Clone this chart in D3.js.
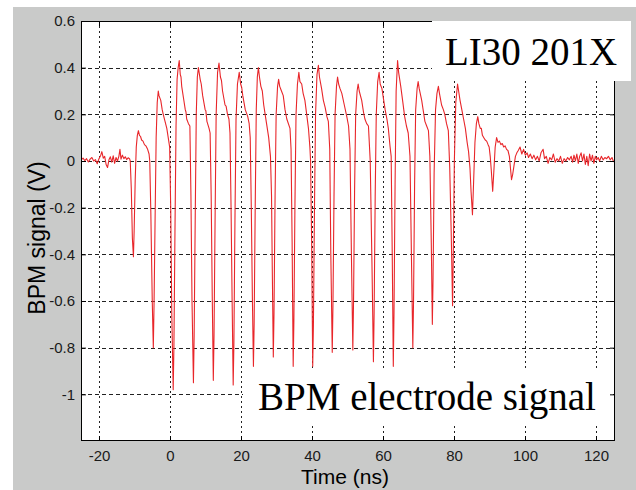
<!DOCTYPE html>
<html><head><meta charset="utf-8">
<script src="https://cdn.jsdelivr.net/npm/d3@7"></script>
<style>
html,body{margin:0;padding:0;background:#fff;}
svg{display:block;}
</style></head>
<body>
<script>
// ---- data ----
const xTicks = [-20, 0, 20, 40, 60, 80, 100, 120];
const xTickLabels = ["-20", "0", "20", "40", "60", "80", "100", "120"];
const yTicks = [0.6, 0.4, 0.2, 0, -0.2, -0.4, -0.6, -0.8, -1];
const yTickLabels = ["0.6", "0.4", "0.2", "0", "-0.2", "-0.4", "-0.6", "-0.8", "-1"];
const xLabel = "Time (ns)";
const yLabel = "BPM signal (V)";
const titleTop = "LI30 201X";
const titleBottom = "BPM electrode signal";

// time (ns), signal (V)
const preTrigger = [
[-25.0,0.005],[-24.5,0.012],[-24.0,0.002],[-23.5,0.010],[-23.0,-0.004],[-22.5,0.008],[-22.0,0.015],[-21.5,0.000],[-21.0,0.006],[-20.5,-0.012],[-20.0,0.010],[-19.5,0.025],[-19.2,0.040],[-18.8,0.012],[-18.4,0.020],[-18.0,-0.015],[-17.6,-0.028],[-17.2,0.005],[-16.8,0.018],[-16.4,-0.005],[-16.0,0.022],[-15.6,-0.010],[-15.2,0.015],[-14.8,0.000],[-14.4,0.020],[-14.1,0.050],[-13.8,0.008],[-13.4,0.025],[-13.0,0.010],[-12.6,0.018],[-12.2,0.006],[-11.8,0.014],[-11.4,0.010]
];
const bunchTrain = [
[-11.2,0.00],[-10.9,-0.12],[-10.6,-0.33],[-10.3,-0.41],[-10.1,-0.30],[-9.8,-0.08],[-9.5,0.06],[-9.2,0.11],[-8.9,0.13],[-8.6,0.11],[-8.3,0.105],[-8.0,0.09],[-7.6,0.085],[-7.2,0.07],[-6.8,0.065],[-6.3,0.05],[-5.9,0.03],[-5.7,0.00],
[-5.4,-0.22],[-5.0,-0.60],[-4.7,-0.80],[-4.5,-0.62],[-4.2,-0.25],[-3.9,0.10],[-3.6,0.25],[-3.3,0.30],[-3.1,0.28],[-2.6,0.26],[-2.2,0.22],[-1.9,0.20],[-1.4,0.17],[-0.9,0.14],[-0.5,0.10],[-0.1,0.06],
[0.2,-0.20],[0.5,-0.65],[0.9,-0.98],[1.1,-0.80],[1.4,-0.30],[1.7,0.15],[2.0,0.35],[2.3,0.40],[2.6,0.43],[2.9,0.37],[3.1,0.36],[3.3,0.32],[3.8,0.27],[4.3,0.22],[4.5,0.21],[4.7,0.18],[5.2,0.16],[5.6,0.15],
[5.9,-0.15],[6.2,-0.60],[6.6,-0.95],[6.8,-0.75],[7.1,-0.25],[7.4,0.20],[7.7,0.36],[8.0,0.40],[8.5,0.35],[8.8,0.33],[9.2,0.28],[9.9,0.22],[10.1,0.215],[10.4,0.17],[11.0,0.14],[11.3,0.12],
[11.6,-0.15],[11.9,-0.58],[12.2,-0.94],[12.4,-0.75],[12.7,-0.25],[13.0,0.20],[13.4,0.38],[13.8,0.42],[14.2,0.36],[14.5,0.345],[14.8,0.30],[15.5,0.24],[15.8,0.235],[16.2,0.20],[16.6,0.18],[16.9,0.12],
[17.2,-0.20],[17.5,-0.60],[17.8,-0.96],[18.0,-0.78],[18.3,-0.25],[18.6,0.18],[19.0,0.33],[19.5,0.38],[19.9,0.33],[20.2,0.315],[20.5,0.28],[21.2,0.22],[21.9,0.19],[22.3,0.16],[22.6,0.10],
[22.9,-0.20],[23.2,-0.58],[23.5,-0.88],[23.7,-0.70],[24.0,-0.20],[24.3,0.22],[24.6,0.36],[24.9,0.40],[25.2,0.36],[25.6,0.32],[26.0,0.30],[26.4,0.24],[27.2,0.16],[27.8,0.10],[28.3,0.02],[28.6,-0.15],
[28.8,-0.45],[29.1,-0.84],[29.3,-0.65],[29.6,-0.15],[29.9,0.20],[30.3,0.32],[30.6,0.35],[30.9,0.32],[31.4,0.30],[31.9,0.28],[32.4,0.22],[32.9,0.18],[33.8,0.14],[34.1,0.05],[34.4,-0.35],
[34.7,-0.88],[34.9,-0.68],[35.2,-0.18],[35.5,0.20],[35.9,0.33],[36.3,0.38],[36.6,0.34],[37.1,0.33],[37.5,0.29],[38.0,0.26],[38.5,0.20],[39.0,0.14],[39.4,0.06],[39.6,0.00],[39.9,-0.35],
[40.2,-0.88],[40.4,-0.70],[40.7,-0.20],[41.0,0.20],[41.4,0.37],[41.8,0.41],[42.1,0.36],[42.7,0.31],[43.2,0.26],[43.7,0.23],[44.2,0.19],[44.6,0.17],[45.0,0.05],[45.3,-0.40],
[45.7,-0.82],[45.9,-0.62],[46.2,-0.15],[46.5,0.20],[46.9,0.32],[47.2,0.36],[47.5,0.33],[47.9,0.31],[48.4,0.29],[49.1,0.24],[49.8,0.19],[50.3,0.15],[50.7,0.05],[51.1,-0.40],
[51.5,-0.81],[51.7,-0.60],[52.0,-0.12],[52.3,0.20],[52.7,0.30],[53.0,0.33],[53.3,0.30],[54.0,0.26],[54.5,0.21],[54.9,0.18],[55.4,0.16],[55.9,0.15],[56.4,0.00],[56.9,-0.45],
[57.3,-0.86],[57.5,-0.65],[57.8,-0.15],[58.1,0.20],[58.5,0.34],[58.9,0.38],[59.2,0.33],[59.7,0.31],[60.2,0.26],[60.6,0.22],[61.1,0.18],[61.5,0.14],[62.0,0.06],[62.3,0.02],[62.6,-0.40],
[62.9,-0.88],[63.1,-0.65],[63.4,-0.10],[63.7,0.30],[64.1,0.43],[64.4,0.38],[65.0,0.32],[65.6,0.25],[66.1,0.19],[66.6,0.15],[67.1,0.12],[67.6,0.02],[68.0,-0.40],
[68.4,-0.80],[68.6,-0.60],[68.9,-0.10],[69.2,0.22],[69.6,0.31],[69.9,0.34],[70.2,0.31],[70.9,0.26],[71.4,0.21],[71.8,0.17],[72.3,0.15],[72.8,0.13],[73.2,0.02],[73.6,-0.35],
[73.9,-0.70],[74.1,-0.50],[74.4,-0.05],[74.8,0.22],[75.2,0.29],[75.6,0.32],[75.9,0.29],[76.5,0.24],[77.0,0.22],[77.4,0.20],[77.9,0.16],[78.4,0.13],[78.8,-0.03],[79.2,-0.30],
[79.6,-0.62],[79.8,-0.40],[80.1,0.00],[80.5,0.25],[81.0,0.33],[81.3,0.30],[81.7,0.26],[82.2,0.22],[82.7,0.18],[83.2,0.14],[83.7,0.08],[84.1,0.04],[84.5,-0.03],[84.8,-0.13],
[85.2,-0.23],[85.5,-0.10],[85.9,0.08],[86.3,0.16],[86.7,0.19],[87.0,0.16],[87.4,0.14],[87.7,0.14],[88.0,0.11],[88.4,0.10],[88.8,0.09],[89.2,0.085],[89.6,0.07],[89.9,0.06],[90.2,0.02],[90.5,-0.04],
[90.9,-0.13],[91.2,-0.05],[91.6,0.06],[92.0,0.10],[92.4,0.08],[92.8,0.085],[93.2,0.07],[93.6,0.075],[94.0,0.06],[94.4,0.065],[94.8,0.05],[95.2,0.045],[95.6,0.02],[95.9,-0.03],[96.2,-0.08],[96.5,-0.06],[96.9,-0.02],[97.3,0.02],[97.7,0.035]
];
const tail = [
[98.1,0.045],[98.6,0.06],[99.1,0.03],[99.6,0.05],[100.1,0.025],[100.6,0.035],[101.0,0.015],[101.5,0.03],[102.0,0.01],[102.5,0.025],[103.0,0.005],[103.5,0.02],[104.0,0.0],[104.5,0.035],[105.1,0.05],[105.5,0.01],[106.0,0.02],[106.5,-0.01],[107.0,0.015],[107.5,0.005],[108.0,0.03],[108.5,-0.005],[109.0,0.01],[109.5,0.0],[110.0,0.02],[110.5,-0.01],[111.0,0.01],[111.5,0.0],[112.0,0.015],[112.5,0.005],[113.0,0.02],[113.4,-0.005],[113.8,0.025],[114.2,0.0],[114.6,0.03],[115.0,-0.01],[115.4,0.02],[115.8,0.035],[116.2,0.0],[116.6,0.03],[117.0,-0.015],[117.4,0.02],[117.8,-0.02],[118.2,0.03],[118.6,0.0],[119.0,0.025],[119.4,-0.01],[119.8,0.02],[120.2,0.005],[120.6,0.015],[121.0,0.0],[121.5,0.02],[122.0,0.005],[122.5,0.015],[123.0,0.01],[123.5,0.02],[124.0,0.005],[124.5,0.015],[125.0,-0.005]
];

// ---- layout ----
const W = 636, H = 490;
const plot = {left: 81, top: 21, right: 615, bottom: 441};

const svg = d3.select("body").append("svg").attr("width", W).attr("height", H);

// figure background
svg.append("rect").attr("x", 0).attr("y", 0).attr("width", W).attr("height", H).attr("fill", "#ffffff");
svg.append("rect").attr("x", 13).attr("y", 7).attr("width", W - 13).attr("height", H - 7).attr("fill", "#c9cac9");

const x = d3.scaleLinear().domain([-25.07, 125.35]).range([plot.left, plot.right]);
const y = d3.scaleLinear().domain([-1.2, 0.6]).range([plot.bottom, plot.top]);

svg.append("rect").attr("x", plot.left).attr("y", plot.top)
  .attr("width", plot.right - plot.left).attr("height", plot.bottom - plot.top).attr("fill", "#fff");

// grid
const grid = svg.append("g");
grid.selectAll("line.v").data(xTicks).join("line").attr("class", "v")
  .attr("x1", d => Math.round(x(d)) + 0.5).attr("x2", d => Math.round(x(d)) + 0.5)
  .attr("y1", plot.top).attr("y2", plot.bottom)
  .attr("stroke", "#222").attr("stroke-width", 1).attr("stroke-dasharray", "2,3");
grid.selectAll("line.h").data(yTicks.filter(d => d < 0.6)).join("line").attr("class", "h")
  .attr("y1", d => Math.round(y(d)) + 0.5).attr("y2", d => Math.round(y(d)) + 0.5)
  .attr("x1", plot.left).attr("x2", plot.right)
  .attr("stroke", "#222").attr("stroke-width", 1).attr("stroke-dasharray", "4,3");

// signal
const signal = preTrigger.concat(bunchTrain, tail);
const line = d3.line().x(d => x(d[0])).y(d => y(d[1]));
svg.append("path").datum(signal).attr("d", line)
  .attr("fill", "none").attr("stroke", "#e8262a").attr("stroke-width", 1.1).attr("stroke-linejoin", "round");

// bottom text box
svg.append("rect").attr("x", 243).attr("y", 368).attr("width", 370).attr("height", 57).attr("fill", "#fff");
svg.append("text").attr("x", 258).attr("y", 410)
  .attr("font-family", "'Liberation Serif','Times New Roman',serif").attr("font-size", 39).attr("fill", "#000")
  .text(titleBottom);

// frame
svg.append("rect").attr("x", plot.left + 0.5).attr("y", plot.top + 0.5)
  .attr("width", plot.right - plot.left - 1).attr("height", plot.bottom - plot.top - 1)
  .attr("fill", "none").attr("stroke", "#000").attr("stroke-width", 1);

// axes (ticks inward)
const tickFont = "'Liberation Sans Narrow','Liberation Sans',Arial,sans-serif";
const gx = svg.append("g").attr("transform", `translate(0,${plot.bottom})`)
  .call(d3.axisBottom(x).tickValues(xTicks).tickFormat((d, i) => xTickLabels[i]).tickSizeInner(-5).tickSizeOuter(0).tickPadding(9));
const gy = svg.append("g").attr("transform", `translate(${plot.left},0)`)
  .call(d3.axisLeft(y).tickValues(yTicks).tickFormat((d, i) => yTickLabels[i]).tickSizeInner(-5).tickSizeOuter(0).tickPadding(6));
const gt = svg.append("g").attr("transform", `translate(0,${plot.top})`)
  .call(d3.axisTop(x).tickValues(xTicks).tickFormat("").tickSizeInner(-5).tickSizeOuter(0));
const gr = svg.append("g").attr("transform", `translate(${plot.right},0)`)
  .call(d3.axisRight(y).tickValues(yTicks).tickFormat("").tickSizeInner(-5).tickSizeOuter(0));
[gx, gy, gt, gr].forEach(g => {
  g.select(".domain").remove();
  g.selectAll("line").attr("stroke", "#000");
  g.selectAll("text").attr("font-family", tickFont).attr("font-size", 15).attr("fill", "#1a1a1a");
});

// top text box
svg.append("rect").attr("x", 432).attr("y", 21).attr("width", 199).attr("height", 60).attr("fill", "#fff");
svg.append("text").attr("x", 445).attr("y", 65)
  .attr("font-family", "'Liberation Serif','Times New Roman',serif").attr("font-size", 39).attr("fill", "#000")
  .text(titleTop);

// axis labels
svg.append("text").attr("x", 345).attr("y", 484).attr("text-anchor", "middle")
  .attr("font-family", "'Liberation Sans',Arial,sans-serif").attr("font-size", 21).attr("fill", "#000")
  .text(xLabel);
svg.append("text").attr("transform", "translate(45,238) rotate(-90)").attr("text-anchor", "middle")
  .attr("font-family", "'Liberation Sans',Arial,sans-serif").attr("font-size", 23).attr("fill", "#000")
  .text(yLabel);
</script>
</body></html>
